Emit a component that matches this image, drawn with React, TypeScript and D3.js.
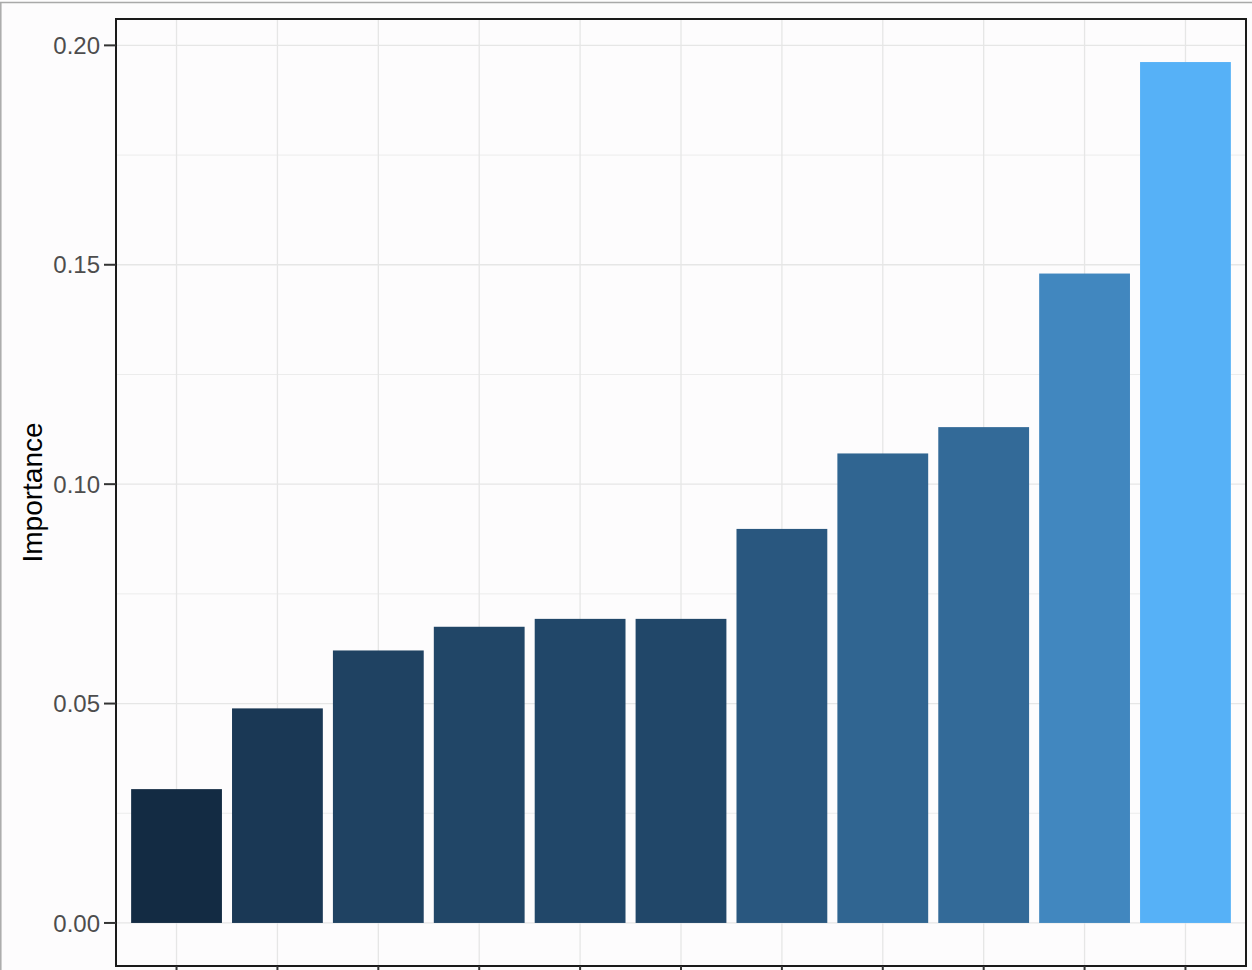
import { useEffect, useRef } from 'react';
import * as d3 from 'd3';

// 변수 중요도 (값이 작은 순)
const categories = ['V1', 'V2', 'V3', 'V4', 'V5', 'V6', 'V7', 'V8', 'V9', 'V10', 'V11'];
const importance = [0.0305, 0.0489, 0.0621, 0.0675, 0.0693, 0.0693, 0.0898, 0.1070, 0.1130, 0.1480, 0.1962];
const yTicks = [0, 0.05, 0.1, 0.15, 0.2];
const yMinorTicks = [0.025, 0.075, 0.125, 0.175];

export default function App() {
  const svgRef = useRef<SVGSVGElement | null>(null);

  useEffect(() => {
    const W = 1252;
    const H = 970;
    const svg = d3.select(svgRef.current);
    svg.selectAll('*').remove();
    svg.attr('width', W).attr('height', H);

    // 패널 위치
    const left = 116, right = 1246, top = 19, bottom = 966;

    svg.append('rect').attr('width', W).attr('height', H).attr('fill', '#fdfcfd');
    // 스크린샷 테두리
    svg.append('line').attr('x1', 0).attr('x2', W).attr('y1', 2.5).attr('y2', 2.5)
      .attr('stroke', '#a9a9a9').attr('stroke-width', 1.5);
    svg.append('line').attr('x1', 0.8).attr('x2', 0.8).attr('y1', 2).attr('y2', H)
      .attr('stroke', '#a9a9a9').attr('stroke-width', 1.5);

    const maxV = d3.max(importance) as number;
    const span = maxV - 0;
    const y = d3.scaleLinear()
      .domain([0 - span * 0.05, maxV + span * 0.05])
      .range([bottom, top]);

    // ggplot: 카테고리당 1 단위, 양옆 0.6 확장 (밴드 중심까지 0.1 + 0.5)
    const x = d3.scaleBand<string>()
      .domain(categories)
      .range([left, right])
      .paddingInner(0)
      .paddingOuter(0.1);
    const cx = (c: string) => (x(c) as number) + x.bandwidth() / 2;
    const barW = x.step() * 0.9;

    const color = d3.scaleLinear<string>()
      .domain([d3.min(importance) as number, maxV])
      .range(['#132B43', '#56B1F7'])
      .interpolate(d3.interpolateLab);

    const g = svg.append('g');

    // 보조 격자
    g.selectAll('.minor').data(yMinorTicks).enter().append('line')
      .attr('x1', left).attr('x2', right)
      .attr('y1', d => y(d)).attr('y2', d => y(d))
      .attr('stroke', '#ececec').attr('stroke-width', 1);
    // 주 격자
    g.selectAll('.major').data(yTicks).enter().append('line')
      .attr('x1', left).attr('x2', right)
      .attr('y1', d => y(d)).attr('y2', d => y(d))
      .attr('stroke', '#e6e6e6').attr('stroke-width', 1.3);
    g.selectAll('.vmajor').data(categories).enter().append('line')
      .attr('x1', d => cx(d)).attr('x2', d => cx(d))
      .attr('y1', top).attr('y2', bottom)
      .attr('stroke', '#e6e6e6').attr('stroke-width', 1.3);

    // 막대
    g.selectAll('.bar').data(importance).enter().append('rect')
      .attr('x', (_, i) => cx(categories[i]) - barW / 2)
      .attr('width', barW)
      .attr('y', d => y(d))
      .attr('height', d => y(0) - y(d))
      .attr('fill', d => color(d));

    // 패널 테두리
    svg.append('rect')
      .attr('x', left).attr('y', top)
      .attr('width', right - left).attr('height', bottom - top)
      .attr('fill', 'none').attr('stroke', '#1a1a1a').attr('stroke-width', 2);

    // y 축 눈금
    const yAxis = svg.append('g');
    yAxis.selectAll('line').data(yTicks).enter().append('line')
      .attr('x1', left - 12).attr('x2', left)
      .attr('y1', d => y(d)).attr('y2', d => y(d))
      .attr('stroke', '#333').attr('stroke-width', 2);
    yAxis.selectAll('text').data(yTicks).enter().append('text')
      .attr('x', left - 16).attr('y', d => y(d))
      .attr('dy', '0.36em').attr('text-anchor', 'end')
      .attr('font-family', 'Liberation Sans, Arial, sans-serif')
      .attr('font-size', '24px').attr('fill', '#4d4d4d')
      .text(d => d3.format('.2f')(d));

    // x 축 눈금 (라벨은 잘림)
    svg.selectAll('.xtick').data(categories).enter().append('line')
      .attr('x1', d => cx(d)).attr('x2', d => cx(d))
      .attr('y1', bottom).attr('y2', bottom + 12)
      .attr('stroke', '#333').attr('stroke-width', 2);

    // y 축 제목
    svg.append('text')
      .attr('transform', `translate(42,${(top + bottom) / 2}) rotate(-90)`)
      .attr('text-anchor', 'middle')
      .attr('font-family', 'Liberation Sans, Arial, sans-serif')
      .attr('font-size', '28px').attr('fill', '#000')
      .text('Importance');
  }, []);

  return (
    <div style={{ position: 'absolute', left: 0, top: 0 }}>
      <svg ref={svgRef} style={{ display: 'block' }} />
    </div>
  );
}
